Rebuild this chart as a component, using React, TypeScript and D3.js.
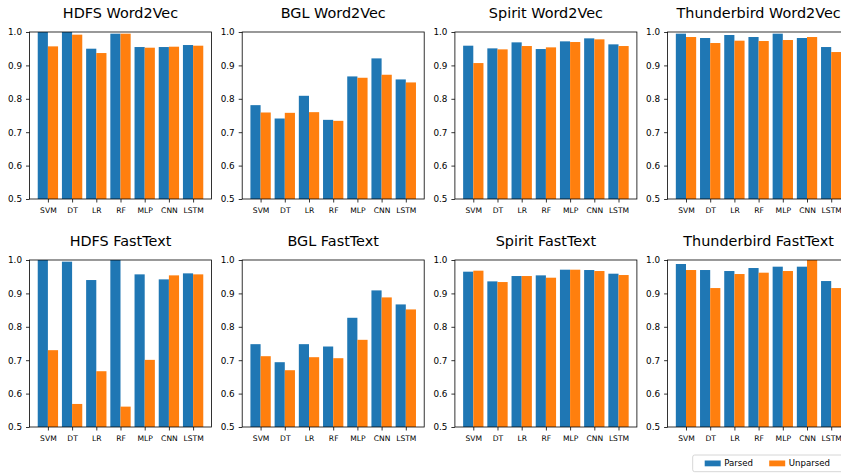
import * as d3 from "d3";
import React, { useEffect, useRef } from "react";

const models = ["SVM", "DT", "LR", "RF", "MLP", "CNN", "LSTM"];

const titles = [
    "HDFS Word2Vec", "BGL Word2Vec", "Spirit Word2Vec", "Thunderbird Word2Vec",
    "HDFS FastText", "BGL FastText", "Spirit FastText", "Thunderbird FastText",
];

// one row per panel, in the order of titles
const parsed = [
    [1.0, 1.0, 0.950, 0.995, 0.955, 0.955, 0.961],
    [0.781, 0.741, 0.809, 0.737, 0.867, 0.921, 0.858],
    [0.959, 0.951, 0.969, 0.949, 0.972, 0.981, 0.963],
    [0.995, 0.982, 0.991, 0.985, 0.995, 0.982, 0.955],
    [1.0, 0.995, 0.940, 1.0, 0.957, 0.942, 0.960],
    [0.748, 0.694, 0.748, 0.741, 0.827, 0.909, 0.867],
    [0.965, 0.936, 0.952, 0.954, 0.971, 0.970, 0.959],
    [0.988, 0.970, 0.967, 0.976, 0.980, 0.980, 0.937],
];

const unparsed = [
    [0.957, 0.992, 0.937, 0.995, 0.953, 0.956, 0.959],
    [0.759, 0.758, 0.760, 0.734, 0.863, 0.872, 0.849],
    [0.907, 0.948, 0.958, 0.954, 0.970, 0.978, 0.958],
    [0.985, 0.967, 0.974, 0.973, 0.976, 0.985, 0.940],
    [0.730, 0.569, 0.667, 0.561, 0.701, 0.954, 0.957],
    [0.712, 0.670, 0.709, 0.706, 0.761, 0.888, 0.852],
    [0.968, 0.934, 0.952, 0.947, 0.971, 0.967, 0.955],
    [0.970, 0.916, 0.958, 0.962, 0.967, 1.0, 0.916],
];

const yTicks = [0.5, 0.6, 0.7, 0.8, 0.9, 1.0];
const legendLabels = ["Parsed", "Unparsed"];
const colours = ["#1f77b4", "#ff7f0e"];

function App() {

    const svgRef: any = useRef<any>(null);

    const width = 841;
    const height = 473;
    const font = "DejaVu Sans";

    useEffect(() => {
        draw();
    }, []);

    const draw = () => {
        const svg = d3.select(svgRef.current);
        svg.selectAll("*").remove();

        const panelW = 182;
        const panelH = 167;
        const barW = 0.42;

        const x = d3.scaleLinear().domain([-0.76, 6.76]).range([0, panelW]);
        const y = d3.scaleLinear().domain([0.5, 1.0]).range([panelH, 0]);

        titles.forEach((title, i) => {
            const col = i % 4;
            const row = Math.floor(i / 4);
            const left = 29.5 + col * 212.7;
            const top = 32 + row * 228;

            const g = svg.append("g").attr("transform", `translate(${left},${top})`);

            const clipId = `clip-${i}`;
            g.append("clipPath").attr("id", clipId)
                .append("rect").attr("width", panelW).attr("height", panelH);

            const bars = g.append("g").attr("clip-path", `url(#${clipId})`);
            [parsed[i], unparsed[i]].forEach((vals, s) => {
                bars.selectAll(null)
                    .data(vals)
                    .enter()
                    .append("rect")
                    .attr("x", (d, j) => x(j + (s === 0 ? -barW : 0)))
                    .attr("width", x(barW) - x(0))
                    .attr("y", d => y(d))
                    .attr("height", d => panelH - y(d))
                    .attr("fill", colours[s]);
            });

            const yAxis = g.append("g")
                .call(d3.axisLeft(y).tickValues(yTicks).tickFormat(d3.format(".1f")).tickSize(3.5).tickPadding(4));
            yAxis.select(".domain").remove();
            yAxis.selectAll("text")
                .attr("font-family", font)
                .attr("font-size", 8.8)
                .attr("fill", "#000");
            yAxis.selectAll("line").attr("stroke", "#000").attr("stroke-width", 0.8);

            const xAxis = g.append("g")
                .attr("transform", `translate(0,${panelH})`)
                .call(d3.axisBottom(x).tickValues(d3.range(models.length)).tickFormat((j: any) => models[j]).tickSize(3.5).tickPadding(5));
            xAxis.select(".domain").remove();
            xAxis.selectAll("text")
                .attr("font-family", font)
                .attr("font-size", 7.6)
                .attr("fill", "#000");
            xAxis.selectAll("line").attr("stroke", "#000").attr("stroke-width", 0.8);

            g.append("rect")
                .attr("width", panelW)
                .attr("height", panelH)
                .attr("fill", "none")
                .attr("stroke", "#000")
                .attr("stroke-width", 0.8);

            g.append("text")
                .attr("x", panelW / 2)
                .attr("y", -13.7)
                .attr("text-anchor", "middle")
                .attr("font-family", font)
                .attr("font-size", 14.4)
                .attr("fill", "#000")
                .text(title);
        });

        // legend, bottom right (runs off the page edge like the original)
        const legend = svg.append("g").attr("transform", "translate(692.7,455)");
        legend.append("rect")
            .attr("width", 160)
            .attr("height", 16.7)
            .attr("rx", 2)
            .attr("fill", "#fff")
            .attr("fill-opacity", 0.8)
            .attr("stroke", "#cccccc")
            .attr("stroke-width", 0.8);

        const itemX = [12, 76.5];
        legendLabels.forEach((label, s) => {
            legend.append("rect")
                .attr("x", itemX[s])
                .attr("y", 5.5)
                .attr("width", 16)
                .attr("height", 5.8)
                .attr("fill", colours[s]);
            legend.append("text")
                .attr("x", itemX[s] + 19.5)
                .attr("y", 11.4)
                .attr("font-family", font)
                .attr("font-size", 8.6)
                .attr("fill", "#000")
                .text(label);
        });
    };

    return (
        <svg
            ref={svgRef}
            width={width}
            height={height}
            style={{ position: "absolute", left: 0, top: 0, background: "#fff" }}
        />
    );
}

export default App;
